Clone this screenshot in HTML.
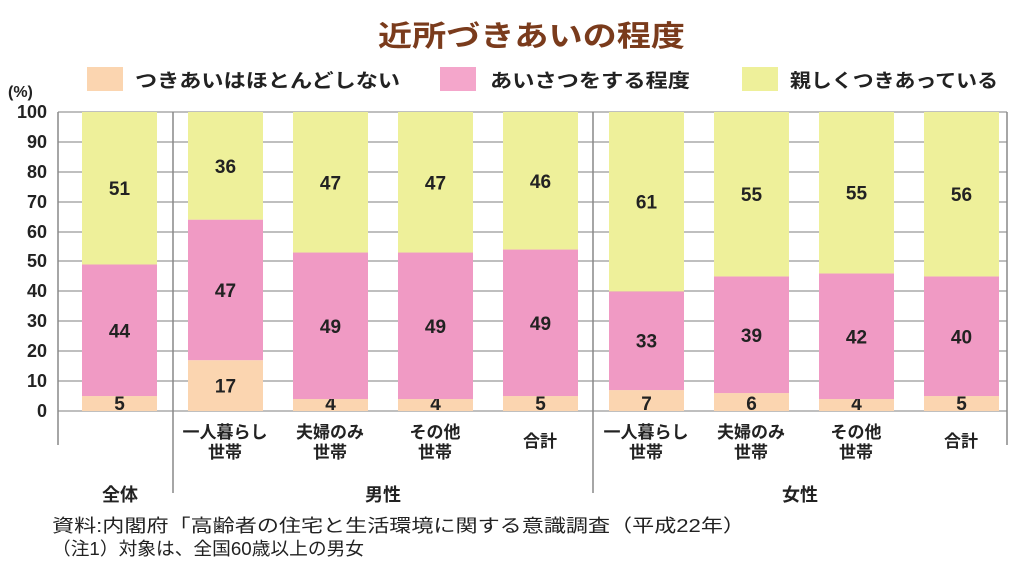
<!DOCTYPE html>
<html><head><meta charset="utf-8"><style>
body{margin:0;background:#fff}
svg{display:block}
text{font-family:"Liberation Sans","Noto Sans CJK JP",sans-serif;font-weight:bold;fill:#222}
</style></head><body>
<svg width="1027" height="585" viewBox="0 0 1027 585" xmlns="http://www.w3.org/2000/svg">
<text x="378" y="46" font-size="29" textLength="307" lengthAdjust="spacingAndGlyphs" style="fill:#7a3b1c">近所づきあいの程度</text>
<rect x="87" y="67" width="36" height="24" fill="#fbd5b0"/>
<text x="135" y="87" font-size="19" textLength="265" lengthAdjust="spacingAndGlyphs">つきあいはほとんどしない</text>
<rect x="440" y="67" width="36" height="24" fill="#f4a6cb"/>
<text x="490" y="87" font-size="19" textLength="200" lengthAdjust="spacingAndGlyphs">あいさつをする程度</text>
<rect x="742" y="67" width="36" height="24" fill="#eef09a"/>
<text x="790" y="87" font-size="19" textLength="208" lengthAdjust="spacingAndGlyphs">親しくつきあっている</text>
<text x="8" y="97" font-size="16">(%)</text>
<g stroke="#aaa" stroke-width="1.5">
<line x1="58" y1="112" x2="1007" y2="112"/><line x1="58" y1="142" x2="1007" y2="142"/><line x1="58" y1="172" x2="1007" y2="172"/><line x1="58" y1="202" x2="1007" y2="202"/><line x1="58" y1="232" x2="1007" y2="232"/><line x1="58" y1="261" x2="1007" y2="261"/><line x1="58" y1="291" x2="1007" y2="291"/><line x1="58" y1="321" x2="1007" y2="321"/><line x1="58" y1="351" x2="1007" y2="351"/><line x1="58" y1="381" x2="1007" y2="381"/><line x1="58" y1="411" x2="1007" y2="411"/>
</g>
<g stroke="#888" stroke-width="1.5">
<line x1="58" y1="112" x2="58" y2="445"/><line x1="173" y1="112" x2="173" y2="493"/><line x1="593" y1="112" x2="593" y2="493"/><line x1="1007" y1="112" x2="1007" y2="445"/>
</g>
<g font-size="18" text-anchor="end">
<text x="47" y="118">100</text><text x="47" y="148">90</text><text x="47" y="178">80</text><text x="47" y="208">70</text><text x="47" y="238">60</text><text x="47" y="267">50</text><text x="47" y="297">40</text><text x="47" y="327">30</text><text x="47" y="357">20</text><text x="47" y="387">10</text><text x="47" y="417">0</text>
</g>
<g id="bars"></g>
<g font-size="17" text-anchor="middle">
<text x="225" y="438">一人暮らし</text><text x="225" y="458">世帯</text>
<text x="330" y="438">夫婦のみ</text><text x="330" y="458">世帯</text>
<text x="435" y="438">その他</text><text x="435" y="458">世帯</text>
<text x="540" y="447">合計</text>
<text x="646" y="438">一人暮らし</text><text x="646" y="458">世帯</text>
<text x="751" y="438">夫婦のみ</text><text x="751" y="458">世帯</text>
<text x="856" y="438">その他</text><text x="856" y="458">世帯</text>
<text x="961" y="447">合計</text>
<text x="120" y="501" font-size="18">全体</text>
<text x="383" y="501" font-size="18">男性</text>
<text x="800" y="501" font-size="18">女性</text>
</g>
<text x="52" y="532" font-size="18" textLength="693" lengthAdjust="spacingAndGlyphs" style="font-weight:normal">資料:内閣府「高齢者の住宅と生活環境に関する意識調査（平成22年）</text>
<text x="52" y="555" font-size="18" textLength="312" lengthAdjust="spacingAndGlyphs" style="font-weight:normal">（注1）対象は、全国60歳以上の男女</text>
</svg>
<script>
var d=[[82,5,44,51],[188,17,47,36],[293,4,49,47],[398,4,49,47],[503,5,49,46],[609,7,33,61],[714,6,39,55],[819,4,42,55],[924,5,40,56]];
var g=document.getElementById('bars'),s='',k=2.99,b=411;
d.forEach(function(r){var x=r[0],w=75,y=b,c=['#fbd5b0','#f09ac4','#eef09a'];
 for(var i=0;i<3;i++){var v=r[i+1];var h=(i==2?(y-112):v*k);y-=h;
  s+='<rect x="'+x+'" y="'+y+'" width="'+w+'" height="'+h+'" fill="'+c[i]+'"/>';
  var ty=(i==0&&v<10)?b-1:y+h/2+7;
  s+='<text x="'+(x+w/2)+'" y="'+ty+'" font-size="19" text-anchor="middle">'+v+'</text>';}
});
g.innerHTML=s;
</script>
</body></html>
